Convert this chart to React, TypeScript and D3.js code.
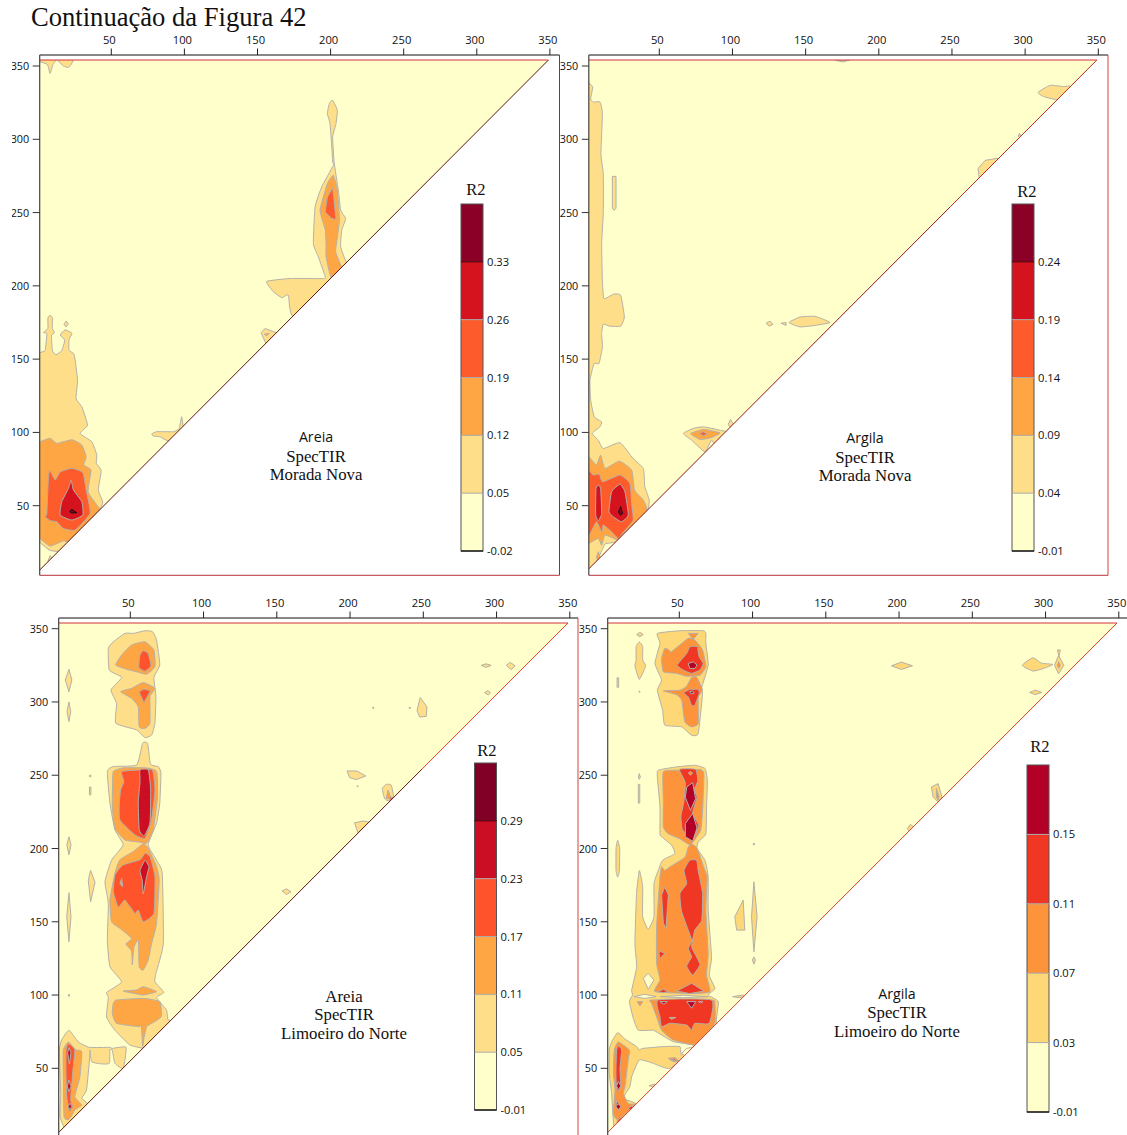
import React from "react";
import * as d3 from "d3";

// ---- contour polygons, flat [x,y,x,y...] in wavelength-index units ----
const amL1 = [
  [0,154,2,154.5,5.6,156,6.8,167.5,4.5,168,7.5,171,7.5,178,9,180,10.6,178,10.6,171,12,168,10,166,10.6,156,13,153,17,155.7,19,163,16,166.4,19.3,170,24,167.5,22,163.4,22,156,25.5,153,27.8,135.7,26.8,123,30.7,117.5,34.6,105,29.6,99.3,37.6,93.6,41,84.5,40.6,79,44,74,42,60.7,45,52.7,42.6,47,20,20,9,19.5,2,25,0,25],
  [7.5,12,9,16,10.6,14,10,10],
  [18.5,173.5,20,176,21.5,174,20,172],
  [78.6,99,82,100.5,93.4,100.5,97.3,102.7,99,110.7,100.3,102.7,101.4,100.5,104,100,90,94.3,84.3,97,79.7,97.5],
  [0,356,0,354,2,353,7.2,351,9,345,11,351,13,354,14,354,18.2,350,21.6,349,24,352,24,356],
  [202.3,326.6,205.5,319.8,204.6,310.7,202.3,301.6,203.3,284.5,206.2,265.2,207.8,251.6,211.2,245.9,208.5,238,207.8,226.6,211.5,216.4,220,200,176,178.9,172,193.6,167.5,192,161.8,195.9,157.2,203,173.2,205,196,205,197,207,192.5,219.8,189.1,228.9,190.3,253.9,194.8,267.5,202.8,282.3,202.3,284.5,201.7,294.8,200.5,310.7,198.7,317.5,200,324.3],
  [156,170.9,164,168,170,160,157.2,159.5,153.3,168],
];
const amL2 = [
  [0,93.6,2,93.6,9,96,13.6,92.5,24,95,30.7,91.4,33.7,83.4,32,77.7,37,74.3,35,59.5,41,50.5,42.6,47,29.6,33.4,21.6,25.5,18,26,9,22.5,2,27.7,0,27.7],
  [202.8,275.4,205.5,265.2,206.9,244.8,204.6,226.6,204.4,223,207.4,215.2,215,200,201.7,205,197.8,219.8,197.8,226.6,197.3,238,193.7,251.6,198.7,269.8],
  [155.5,167,159,167.5,157,166],
];
const amL3 = [
  [6.8,44.8,7.9,69.8,9,73.9,12.5,67.5,15.9,73,24,75.5,31.5,72.5,33.7,60.7,36.4,44.8,26.2,33.4,18,34.5,13.6,39,9,39.8,5.6,42.5],
  [202.3,267,204.6,245.2,201.7,245.9,197.1,250.4,198.7,260.6],
];
const amL4 = [[23.4,67.5,25,60.7,30.7,52.7,31.4,43.6,23.9,40.2,15.9,43.6,17,52.7,21.6,61.8]];
const amL5 = [[22.3,46,23.9,47.5,27.3,45.2,23.9,45]];

const bmL1 = [
  [0,338,3,338,5.4,335.6,4,327.7,5.8,325.4,10.4,325.4,12,317.5,11,290,12.6,276.5,12.6,249.3,11.5,228.8,12,203.8,13.1,191.3,19.5,194.3,24.5,193.6,27,178.8,24.5,172.5,17.2,172.5,12.6,173.8,11.5,167.5,12,158.4,9.7,147,6.3,147,3.5,135.6,4,122,6.5,110.6,11.5,107.2,10.3,103.8,5,99.3,9.2,94.7,12.6,89,24,93,33,82.2,40,75.4,41,63,44,53.8,42.2,45.9,22,26,14,24,11,18,8,12,2,6,0,5],
  [18.8,274.7,21.3,274.7,21.3,253,20,251.5,18.8,253],
  [67.3,99.3,74,102.7,81,103.8,92.3,101.5,97,100,90,90,86.6,94.7,82,86.8,73,94.7],
  [98,105.6,99.6,108.8,101.5,105.6,99.2,103.4],
  [139.5,175,147,178.7,157.3,179.2,167.6,175,157.3,173,147,172],
  [123.8,174.5,126.6,175.9,128.6,173.8,125.9,172.5],
  [134,174.5,137.5,175,137.5,173],
  [268.7,280,273.5,285.6,281.7,287,290,285,270,270],
  [309.7,332,318,336.8,326.8,336,332,336,329,326,314,329],
  [296,302,297,304,298,302.5],
  [171,354,176,352.8,181,354],
];
const bmL2 = [
  [0,83.4,2.8,83.4,8,77.7,10.8,84.5,13.8,75.4,23.5,80.4,32,74.3,34,60.6,40,53.8,42.2,45.9,26.3,31,22.9,26.5,13.8,30,11.5,23,9.2,27.7,2.8,24.3,0,24.3],
  [8,15,9.2,18.6,10.8,13.4,9.2,10.7],
  [72.3,99.3,81,102,92.3,99.7,87.8,97,84.4,95.9,78.7,95.2,75.3,97],
];
const bmL3 = [
  [0,74,2.8,74,5.8,70.9,9.9,71.5,12.2,66.3,24,70.9,30.8,65.2,32,51.5,33,40,26.3,32,22.9,27.7,18.3,32.2,12.6,36.8,11.5,32,8,39,3,30,0,30],
  [78.2,99.3,81,100.4,83.7,98.8,81,97.7],
];
const bmL4 = [
  [9.2,64,10.8,61.8,11.5,44.7,9.2,39.7,7.4,43.6,7.6,61.8],
  [24,64.7,27.4,59.5,29.7,43.6,25,39,19.4,42.5,16.5,45.9,18.3,59.5],
];
const bmL5 = [[24.5,49.3,25.8,44.7,24.2,43.6,23,45.9]];

const clL1 = [
  [47.2,346.8,39.3,341,35.9,336.6,36.5,321.8,45,316.8,37.7,308.2,41.5,299,41,285.5,55,281,60.9,275.7,65.5,277.5,67.7,285.5,68.4,303.6,67,316.8,71,325.2,68.8,342.3,66,348,60.9,348.6,53,346.8],
  [59.3,271.8,62.7,271.8,64.7,257.5,70,255.9,71.8,251.4,71,230.9,68.8,217.3,63.1,202.5,68.8,192,72.7,183,73.4,135,68.4,114.8,67.7,109,73.8,101.8,68.8,98.4,75.6,89.8,76.8,83,85,80,62,62,59.7,63.6,50.6,65.9,40.4,76,34.7,85,35.9,98.4,34.7,101.8,45,109,37,119.3,35.2,137.5,35.9,162.5,33.6,177.3,38.1,192,46,202.5,40.4,212.7,37,230.9,35.2,252.5,39.3,255.9,55.2,257],
  [2.5,62.5,4,69.3,9,76,15.4,68,23,64.3,37,64.3,38.6,63.6,48,64.3,46,50,40.4,53.4,38.6,62.5,37,62.5,36.6,53.4,31.3,53,24.5,54.5,23.4,62.5,23,55.7,21,35.2,17.7,29.5,21.6,25,7.5,8,3,17,3.4,33],
  [23.8,185,26.8,177,23.8,163.6,22.2,178.4],
  [9,169.8,10.4,153.4,9,136.4,7.5,153.4],
  [8.5,100,9,100.6,9.5,100,9,99],
  [9,322.3,11,315,9,307,6.5,315],
  [9,300,10.2,293.4,9,286.6,7.7,293.4],
  [9,208,10.4,202.5,9,195.7,7.6,202.5],
  [23,250,24,250,24,249,23,249],
  [23,242,24,242,24,236.6,23,236.6],
  [290.4,325,293.8,326,297.2,325,293.8,323.6],
  [307.5,325,310.2,327,313.6,324.7,310.9,322],
  [292.7,306.3,295,307.7,296.8,306.3,295.2,304.8],
  [246.6,294.3,248.8,303,253.4,296.6,252.9,290.2,248.4,289.7],
  [216,296,217,296.5,217,295.5],
  [241,296,242,296.5,242,295.5],
  [198.8,252.9,205.6,252.9,211.6,249.5,205.2,247,200.6,248.4],
  [205.5,242.5,206,243,206.6,242.5,206,242],
  [222.9,240.9,225.6,243.8,229,243.2,230.6,235.2,227.5,232.5,224.5,234],
  [204,217.5,209.7,218.8,213.8,218,206.3,210.7],
  [154.5,171,157.5,172.5,160.6,170.4,157.5,168.6],
];
const clL2 = [
  [41,325.2,45,332,51.8,338.9,60.9,341,67,335.5,67.7,324,62,319,55,320.7,48.4,322.3],
  [44.4,307,51.8,309.3,59.7,313.2,67.7,309.3,64.3,303.6,64.3,285.5,60.9,282,57,283,56.3,296.8,51.8,302.5],
  [39.3,252.5,46,255,62,255,68.8,252.5,69.5,235.5,66.5,212.7,62,203.6,57.5,204.3,47.2,205.9,40.4,213.9,38.6,228.6,38.8,242.3],
  [59.7,203.2,63.1,200.2,68.8,187.8,70.6,178.4,68.8,148.9,65.4,135,63.1,123.9,59.7,117,57,119.3,56.3,137.5,53.4,132.5,52.2,120.6,51.8,130,47.9,134.8,51.8,138.6,43.8,145.5,38.1,150,37,164.8,40.4,183,43.8,192.3,53,198],
  [39.3,94.3,41.5,96.6,59.7,97.7,71,95.5,72,85.2,65.5,80.7,62,78.4,60.2,70.5,59.3,64.8,58.5,78.4,56.3,78.4,41.5,80.7,38.6,87.5],
  [46,102.7,55,103.4,59.7,105.7,68.8,102.3,59.7,100,54,101],
  [8.6,68,13.8,62.5,17.7,61.4,16.5,44.3,13,30.7,17.7,25,13,21.6,10.5,17,8.6,14.9,5.7,17,5.2,44.3,5.2,62.5],
  [226.8,239.8,229,234,225.6,234],
];
const clL3 = [
  [59.7,335,63,333.2,65,324.5,60.9,321,56.8,323.6,57.5,332],
  [56.8,307,60.2,308.8,64.7,307.7,60.2,299.5],
  [45,252.5,57.5,253.6,66,253.6,67.7,240,65.4,219.5,60.9,207,54,209.3,43.8,219.5,43.4,231,44.3,240,46.5,245.7],
  [40.4,181.8,45.6,188.6,57.5,192.3,60.9,196.8,64.3,194.5,67.7,180.7,67,155.7,59.7,150,56.3,158,54,155.7,47.2,164.8,42.7,160,39.3,170.5],
  [8.6,66.8,13,62.5,11.5,46.6,10.2,28.4,11.6,23.9,9.3,20.5,7.5,31,7,46.6,7,62.5],
  [228,235,230.5,235,228,232.5],
];
const clHole = [[43.8,176,45,179.5,45.7,173.9]];
const clL4 = [
  [60.9,191.9,63.6,187.5,62,180.7,59.7,169,59,178.4,57.5,185],
  [57.5,253.6,63.2,253.6,64.8,240,64.3,217.3,60.3,208.6,57,212.7,56.3,231,57.5,245.7],
  [9,64.1,10.4,60.7,9.3,52.8,8.1,60.7],
  [9,42,10.4,37.5,9,34,7.9,37.9],
  [9.7,26.2,11,24,9.7,21.6,8.4,24],
];

const dlL1 = [
  [35.9,346.8,51.3,348.6,67.2,348.6,69,346.8,69,340,70.6,325.2,66,309.2,66.7,304.7,63.8,278.5,59.3,277.3,52.5,283,41,284.2,39.5,294.4,35.9,308,38.8,315,34.3,326.3,37.7,340],
  [36.5,253.4,49,255.7,61.5,256.8,68.4,254.6,70,246.6,69.5,228.4,69,210,63.8,204.4,63.1,199.9,68.4,192,70.6,180.7,70.6,158,72.9,126,71.3,113.6,75.2,104.5,70.6,100,77.5,95.5,76.2,80.7,85,80,62,62,60.4,65.9,46.8,68.2,38.8,72.7,33.1,76,22.9,76,19.5,84,16.8,95.5,19,100,18.4,103.4,21.8,119.3,20.6,135,21.7,169.3,23.6,185,25.9,173.9,25.9,153.4,29.7,145,33.6,153.4,33.6,176,36.5,185,38.8,191,41,193,47.9,196.5,45.6,202.3,38.8,208,37.7,210,37.7,228.4,35.9,248.9],
  [3.1,62.5,4.7,68,8.8,74.3,13.8,70,21.8,64.8,23.6,62.5,25.9,63.6,40,64.8,51.3,64.8,52.3,59,62,66,44.5,50,33.1,53.4,23.6,55.7,18.4,44.3,17.2,37.5,12.7,29.5,21.8,25,7,7.5,4.7,33,3.1,46.6],
  [30.2,38.2,34.3,39.3,33.6,37],
  [21.8,346,24,347.5,26.3,346,24,344.5],
  [23.6,341,25.9,337.7,25.9,328.6,27.9,324.7,23.6,315.4,20.6,324.7,21.4,328.6,21.4,337.7],
  [8.4,316.5,9.5,316.5,9.5,310,8.4,310],
  [23.2,307,24,307.4,24,306.6],
  [23.6,251.1,24.3,248.8,23.6,247.2,22.9,248.8],
  [22.9,243.8,23.9,243.8,23.9,231,22.9,231],
  [8.8,205.6,10.2,200,10,185,8.8,180.5,7.7,185,7.7,200],
  [88.8,153.4,94.5,164.8,95.6,144.3,90,144.3],
  [101.8,177.3,104,153.4,101.8,129.5,100.2,153.4],
  [101.8,126,102.9,123.9,101.8,121,100.8,123.9],
  [101.4,203.5,102.2,203.5,102.2,202.5,101.4,202.5],
  [87.2,98.9,94.5,100,96.8,99.3,92.2,98.2],
  [195.7,324.7,202.5,327.2,210,324.7,202.5,322.2],
  [285,325,292.3,330.2,298,326.5,305.9,325.6,299,322.7,292.3,321.1],
  [307,325,309.8,331.8,313.4,325,309.8,319.3],
  [309,335.5,311,335.5,310,331],
  [290,306.5,293.9,308.1,298.4,306.5,293.9,305],
  [223,242,227.5,244.3,230.2,235.2,227.5,231.8,224.1,235.2],
  [206.6,213.6,208.6,216.5,210.9,214.7,208.2,211.3],
];
const dlHole = [
  [26.3,111.4,29.7,114.8,33.6,110.2,29.7,103.9],
  [20,98.9,27.3,100.5,35.1,98.9,27.3,97.7],
  [37.7,98.9,53.6,99.8,70.6,98.9,53.6,98.2],
  [52.5,60.2,55.9,63.6,60,64.3,55.4,58],
];
const dlL2 = [
  [38.8,329.7,41,336.6,44,335.4,45.6,334.3,57,343.4,61.5,342.3,66.8,335.4,69,324,65,318.3,55.9,317.6,49,319.5,40,320.6],
  [57,346.8,63.8,346.8,60.4,342.7],
  [40,307.6,51.3,308,55.9,310.8,59.3,316.7,62.7,317,66.8,308,63.8,303.5,63.8,285.3,59.3,283,54.7,286.4,52.5,301.3,49,305],
  [40,252.3,51.3,253.4,65,253.9,67.7,251,66.9,228.4,65.5,212.4,59.3,203.3,57,202.9,51.3,206.6,43.4,210,40,214.7,40,232.9],
  [59.3,203.3,63.1,200,68.4,185,70,180.7,69,158,70.6,128.4,69.5,113.6,71.8,102.3,60.4,101,34.3,102.3,37.7,110.2,35.4,121.6,35.4,146.6,37.7,180.7,38.8,187.5,41,185,44.5,187.5,54.7,194,57,201],
  [32,96.6,72.9,96.6,75.2,94.3,75.2,80.7,68.5,72.7,61.5,65.9,46.8,69.3,38.8,76,35.5,85,32,94.3],
  [22.2,95.5,25.9,95.5,24,92.5],
  [43.4,56.8,47.9,57.3,51.3,54.5,46.8,54.5],
  [6.5,62.5,9.3,68,16.8,62.5,16,55.7,13.8,37.5,12.7,33,16,26,20.6,25,9.3,14.8,5.9,18.8,7,35.2,5.9,46.6],
  [309,325,309.8,327.5,311,325,309.8,323],
  [226.4,240.9,228.2,235.2,227.5,233,226.4,235.2],
];
const dlL3 = [
  [49.5,325.2,55.9,333,58.1,337.7,63.1,337.7,64.4,330.9,67.2,326.3,65,321.8,59.3,319.5,53.6,321.8],
  [54,306.3,58.1,308.5,63.8,308.5,64.5,305.8,61.5,297.8,59.3,297.8,57,303.5],
  [41,173.9,43.4,168.2,41.8,145.5,40,148.9,38.8,168.2],
  [58,192,62.7,192,63.8,185,66.8,169.3,66.2,151,61.5,144.3,59.3,133,62.7,126,65,120.5,60,113.6,55.9,119.8,59.3,126,57,131.8,59.3,137.5,52.5,156.8,51.3,169.3,55.9,176,54.1,185],
  [37.7,130,41,128.4,37.7,125,37,128.4],
  [35.9,102.3,40,103.9,43.4,102.3,40,101.6],
  [49,102.7,59.3,108,67.7,102.7,58,101],
  [36.5,96.6,72.9,96.6,71.3,80.7,61.5,80.7,59.3,76,55.9,79.5,44.5,80.7,38.8,78.4,37.7,85],
  [8.1,62.5,9.3,65.2,11.5,62.5,10.4,50,10.9,37.5,8.6,34,7.7,42,7.7,51],
  [8.1,27.9,10.9,24.4,9.3,20.9,7.7,24.4],
  [16,23,19,24.5,19,20],
  [8,13.5,11.5,17,11,13],
  [45,55.5,48,56.5,49,55],
  [51,254,62,254,63.5,246,61,240,63,235,60,224,64,216,60,206,53,213,52,222,54,232,55,245],
];
const dlInner = [
  [44,84.7,48.6,84.7,45.6,83.4],
  [57,251.5,58.5,252.5,60,251.5,58.5,250],
];
const dlL4 = [
  [56,242,60,245,62,234,58.5,226,55,235],
  [55,217,60,224,63,214,60,205,55,208],
  [57,326.3,60.4,327.4,63.1,325.2,61.5,322.9,58,322.9],
  [58,307,60,307.5,61,306,59,305.5],
  [55.9,95.5,62.2,95.5,59.3,91],
  [37.7,95.5,42.7,95.5,40.4,93.7],
  [64,95.5,67,95.5,65.5,94.5],
  [9.3,40.9,10.9,38,9.3,35.2,8.1,38],
  [9.3,25.7,10.9,24,9.3,21.6,7.7,24],
];

// legends
const amLegend = ["0.33", "0.26", "0.19", "0.12", "0.05", "-0.02"];
const bmLegend = ["0.24", "0.19", "0.14", "0.09", "0.04", "-0.01"];
const clLegend = ["0.29", "0.23", "0.17", "0.11", "0.05", "-0.01"];
const dlLegend = ["0.15", "0.11", "0.07", "0.03", "-0.01"];
const sixColors = ["#FFFFCC", "#FEDE88", "#FEA644", "#FE5B2D", "#D5131F", "#8A0027"];
const sixColorsC = ["#FFFFCC", "#FEDE88", "#FEA644", "#FE532B", "#CB0E24", "#800026"];
const fiveColors = ["#FFFFCC", "#FED877", "#FD933B", "#F03723", "#B30026"];
const tickValues = [50, 100, 150, 200, 250, 300, 350];

type Layer = [number, number[][]];
const panels = [
  { id: "a", caption: ["Areia", "SpecTIR", "Morada Nova"], capSans: true, capX: 316, capY: [442, 462, 480], left: 39.7, right: 559.5, axisTop: 55, redTop: 60, bottom: 575.3, xR: [110, 548.6], yR: [505.7, 66], labelClip: 12,
    colors: sixColors, diag: ["#5a1414", "#5a1414"], legend: amLegend, bar: [461, 483, 204, 551], titleXY: [476, 195],
    layers: [[1, amL1], [2, amL2], [3, amL3], [4, amL4], [5, amL5]] as Layer[] },
  { id: "b", caption: ["Argila", "SpecTIR", "Morada Nova"], capSans: true, capX: 865, capY: [443, 463, 481], left: 588.8, right: 1108, axisTop: 55, redTop: 60, bottom: 575.3, xR: [658, 1097], yR: [505.7, 66], labelClip: 560,
    colors: sixColors, diag: ["#8c1818", "#c02a22"], legend: bmLegend, bar: [1012, 1034, 204, 551], titleXY: [1027, 197],
    layers: [[1, bmL1], [2, bmL2], [3, bmL3], [4, bmL4], [5, bmL5]] as Layer[] },
  { id: "c", caption: ["Areia", "SpecTIR", "Limoeiro do Norte"], capSans: false, capX: 344, capY: [1002, 1020, 1039], left: 58.7, right: 578, axisTop: 618, redTop: 623, bottom: 1140, xR: [129, 568.5], yR: [1068.3, 628.7], labelClip: 12,
    colors: sixColorsC, diag: ["#5a1414", "#e0482a"], legend: clLegend, bar: [474.5, 496.5, 763, 1110], titleXY: [487, 756],
    layers: [[1, clL1], [2, clL2], [3, clL3], [2, clHole], [4, clL4]] as Layer[] },
  { id: "d", caption: ["Argila", "SpecTIR", "Limoeiro do Norte"], capSans: true, capX: 897, capY: [999, 1018, 1037], left: 607.7, right: 1128, axisTop: 618, redTop: 623, bottom: 1140, xR: [678, 1117.5], yR: [1068.3, 628.7], labelClip: 579,
    colors: fiveColors, diag: ["#d8402a", "#d8402a"], legend: dlLegend, bar: [1027, 1049, 765, 1112], titleXY: [1040, 752],
    layers: [[1, dlL1], [0, dlHole], [2, dlL2], [3, dlL3], [2, dlInner], [4, dlL4]] as Layer[] },
];

const pairs = (flat: number[]) => d3.range(0, flat.length, 2).map((i) => [flat[i], flat[i + 1]] as [number, number]);
const SANS = "'Open Sans', sans-serif";
const SERIF = "'Liberation Serif', serif";
const LABEL_SIZE = 10.8;
const LEGEND_SIZE = 11.2;

function Panel({ p }: { p: (typeof panels)[number] }) {
  const x = d3.scaleLinear().domain([50, 350]).range(p.xR);
  const y = d3.scaleLinear().domain([50, 350]).range(p.yR);
  const px = (d: [number, number]) => x(d[0]);
  const py = (d: [number, number]) => y(d[1]);
  const smooth = d3.line<[number, number]>().x(px).y(py).curve(d3.curveCardinalClosed.tension(0.55));
  const straight = d3.line<[number, number]>().x(px).y(py).curve(d3.curveLinearClosed);
  const contour = (flat: number[]) => {
    const pts = pairs(flat);
    return (pts.length > 5 ? smooth(pts) : straight(pts)) ?? "";
  };
  const yTop = y.invert(p.redTop);
  const xEnd = yTop - 4.2;
  const xLeft = x.invert(p.left);
  const tri: [number, number][] = [[xLeft, xLeft + 4.2], [xEnd, yTop], [xLeft, yTop]];
  const n = p.legend.length;
  const legY = d3.scaleLinear().domain([0, n]).range([p.bar[3], p.bar[2]]);
  const mid = 250;
  return (
    <g>
      <defs>
        <clipPath id={`tri-${p.id}`}><path d={straight(tri) ?? ""} /></clipPath>
        <clipPath id={`lab-${p.id}`}><rect x={p.labelClip} y={p.axisTop - 10} width={40} height={p.bottom - p.axisTop + 10} /></clipPath>
      </defs>
      <path d={straight(tri) ?? ""} fill={p.colors[0]} />
      <g clipPath={`url(#tri-${p.id})`}>
        {p.layers.map(([lvl, polys], i) => (
          <g key={i}>
            {polys.map((poly, j) => (
              <path key={j} d={contour(poly)} fill={p.colors[lvl]} stroke={lvl === 5 ? "#111" : "#b4b0a8"} strokeWidth={1} strokeLinejoin="round" />
            ))}
          </g>
        ))}
      </g>
      {/* frame */}
      <line x1={p.left} y1={y(xLeft + 4.2)} x2={x(mid)} y2={y(mid + 4.2)} stroke={p.diag[0]} strokeWidth={1} />
      <line x1={x(mid)} y1={y(mid + 4.2)} x2={x(xEnd)} y2={y(yTop)} stroke={p.diag[1]} strokeWidth={1} />
      <line x1={p.left} x2={x(xEnd)} y1={p.redTop} y2={p.redTop} stroke="#d4343a" strokeWidth={1} />
      <line x1={p.left} x2={p.right} y1={p.axisTop} y2={p.axisTop} stroke="#111" strokeWidth={1} />
      <line x1={p.right} x2={p.right} y1={p.axisTop} y2={p.bottom} stroke={p.id === "a" ? "#8c2f3a" : "#d4443a"} strokeWidth={1} />
      <line x1={p.left} x2={p.right} y1={p.bottom} y2={p.bottom} stroke="#b8343a" strokeWidth={1} />
      <line x1={p.left} x2={p.left} y1={p.axisTop} y2={p.bottom} stroke="#444" strokeWidth={1.2} />
      {/* axes */}
      {tickValues.map((t) => (
        <g key={t}>
          <line x1={x(t) + 1.3} x2={x(t) + 1.3} y1={p.axisTop - 6.5} y2={p.axisTop} stroke="#222" />
          <text x={x(t) - 0.7} y={p.axisTop - 11.5} textAnchor="middle" fontFamily={SANS} fontSize={LEGEND_SIZE} fill="#111">{t}</text>
          <line x1={p.left - 7} x2={p.left} y1={y(t)} y2={y(t)} stroke="#333" />
          <g clipPath={`url(#lab-${p.id})`}>
            <text x={p.left - 10.5} y={y(t) + 4} textAnchor="end" fontFamily={SANS} fontSize={LABEL_SIZE} fill="#111">{t}</text>
          </g>
        </g>
      ))}
      {/* caption */}
      {p.caption.map((c, i) => (
        <text key={c} x={p.capX} y={p.capY[i]} textAnchor="middle" fontFamily={i === 0 && p.capSans ? SANS : SERIF} fontSize={i === 0 && p.capSans ? 14.2 : 16.8} fill="#111">{c}</text>
      ))}
      {/* legend */}
      <text x={p.titleXY[0]} y={p.titleXY[1]} textAnchor="middle" fontFamily={SERIF} fontSize={16.5} fill="#111">R2</text>
      {p.colors.map((c, i) => (
        <rect key={c} x={p.bar[0]} width={p.bar[1] - p.bar[0]} y={legY(i + 1)} height={legY(i) - legY(i + 1)} fill={c} />
      ))}
      <rect x={p.bar[0]} width={p.bar[1] - p.bar[0]} y={p.bar[2]} height={p.bar[3] - p.bar[2]} fill="none" stroke="#555" />
      <line x1={p.bar[0]} x2={p.bar[1]} y1={p.bar[3]} y2={p.bar[3]} stroke="#000" strokeWidth={1.2} />
      {p.legend.map((l, i) => {
        const ly = legY(n - 1 - i);
        return (
          <g key={l}>
            {i < n - 1 && <line x1={p.bar[0]} x2={p.bar[1]} y1={ly} y2={ly} stroke={i === 0 && n === 6 ? "#400" : "#aaa"} />}
            <text x={p.bar[1] + 4} y={ly + 4} fontFamily={SANS} fontSize={LEGEND_SIZE} fill="#111">{l}</text>
          </g>
        );
      })}
    </g>
  );
}

export default function App() {
  return (
    <svg width={1127} height={1135} style={{ position: "absolute", left: 0, top: 0, display: "block", background: "#fff" }}>
      {panels.map((p) => <Panel key={p.id} p={p} />)}
      <text x={31} y={26} fontFamily={SERIF} fontSize={26.6} fill="#111">Continuação da Figura 42</text>
    </svg>
  );
}
